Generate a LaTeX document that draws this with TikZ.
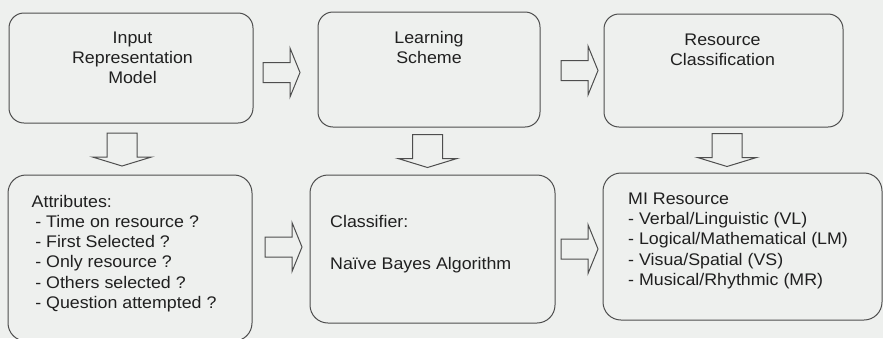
\documentclass[tikz,border=0pt]{standalone}
\usepackage{fontspec}
\setmainfont{Liberation Sans}[FakeStretch=1.06]
\definecolor{paper}{RGB}{238,240,238}
\definecolor{ink}{RGB}{78,78,78}
\definecolor{txt}{RGB}{32,32,32}
\begin{document}
\begin{tikzpicture}[x=1pt,y=-1pt,
  box/.style={draw=ink, line width=1pt, rounded corners=15pt, inner sep=0pt},
  lowbox/.style={box, rounded corners=18pt},
  lbl/.style={inner sep=0pt, text=txt, font=\fontsize{16.8}{20.2}\selectfont},
  blockarrow/.style={draw=ink, line width=1pt, fill=paper},
  rarrow/.pic={\draw[blockarrow] (-18.5,-10) -- (8.5,-10) -- (8.5,-24.5) -- (18.5,0)
      -- (8.5,24.5) -- (8.5,10) -- (-18.5,10) -- cycle;},
  darrow/.pic={\draw[blockarrow] (-15,-16.5) -- (15,-16.5) -- (15,7.5) -- (29.5,7.5)
      -- (0,16.5) -- (-29.5,7.5) -- (-15,7.5) -- cycle;}
]
% canvas
\useasboundingbox (0,0) rectangle (883,338);
\fill[paper] (0,0) rectangle (883,338);
\clip (0,0) rectangle (883,338);

% upper row
\node[box, minimum width=244pt, minimum height=110pt] (inrep) at (131,68) {};
\node[box, minimum width=222pt, minimum height=115pt] (learn) at (429,69.5) {};
\node[box, minimum width=239pt, minimum height=113pt] (rclass) at (723.5,70.5) {};

\node[lbl, align=center, anchor=north] (inrepT) at (132.5,31.7) {Input\\Representation\\Model};
\node[lbl, align=center, anchor=north] (learnT) at (429,30.7) {Learning\\Scheme};
\node[lbl, align=center, anchor=north] (rclassT) at (722.5,33.3) {Resource\\Classification};

% lower row
\node[lowbox, minimum width=244pt, minimum height=166pt] (attr) at (130,258) {};
\node[lowbox, minimum width=245pt, minimum height=148pt] (clf) at (432.5,249) {};
\node[lowbox, minimum width=279pt, minimum height=147pt] (mires) at (742.5,246.5) {};

\node[lbl, align=left, anchor=north west] (attrT) at (31.5,195) {Attributes:\\
  \hspace*{3.6pt}- Time on resource ?\\
  \hspace*{3.6pt}- First Selected ?\\
  \hspace*{3.6pt}- Only resource ?\\
  \hspace*{3.6pt}- Others selected ?\\
  \hspace*{3.6pt}- Question attempted ?};
\node[lbl, align=left, anchor=north west] (clfT) at (330,215) {Classifier:\\[21.5pt]Naïve Bayes Algorithm};
\node[lbl, align=left, anchor=north west] (miresT) at (628,192.7) {MI Resource\\
  - Verbal/Linguistic (VL)\\
  - Logical/Mathematical (LM)\\
  - Visua/Spatial (VS)\\
  - Musical/Rhythmic (MR)};

% block arrows between the stages
\coordinate (a12) at (281.5,72.5);
\coordinate (a23) at (579.5,70.5);
\coordinate (a45) at (283.5,247);
\coordinate (a56) at (579.5,249);
\coordinate (d14) at (122,149.5);
\coordinate (d25) at (427.5,151);
\coordinate (d36) at (727,150);

\pic at (a12) {rarrow};
\pic at (a23) {rarrow};
\pic at (a45) {rarrow};
\pic at (a56) {rarrow};
\pic at (d14) {darrow};
\pic at (d25) {darrow};
\pic at (d36) {darrow};
\end{tikzpicture}
\end{document}
